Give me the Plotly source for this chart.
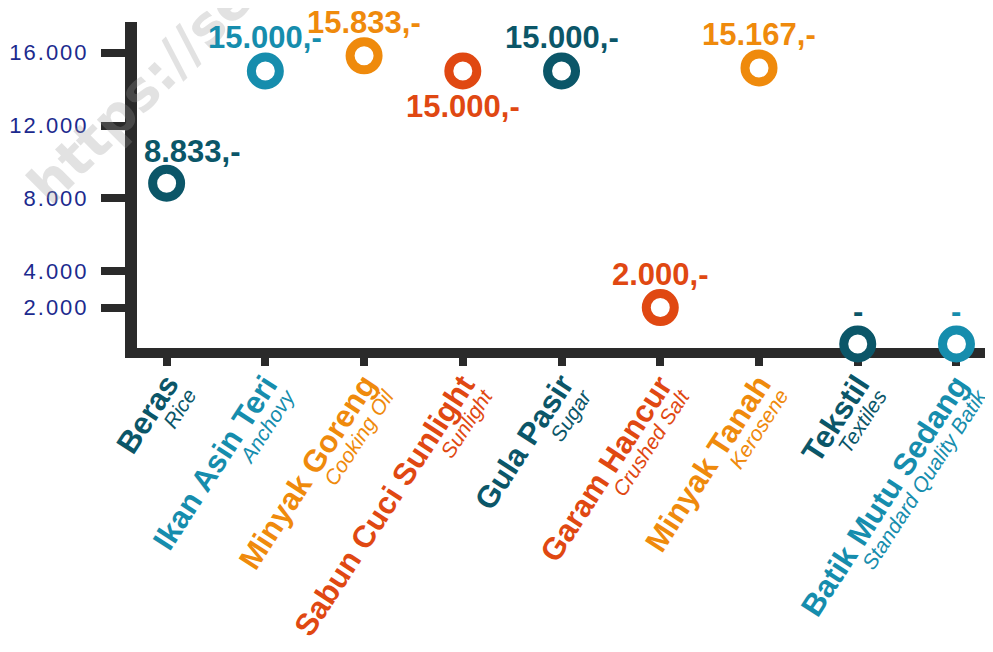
import math
import plotly.graph_objects as go

# ---- data ----
names = ["Beras", "Ikan Asin Teri", "Minyak Goreng", "Sabun Cuci Sunlight",
         "Gula Pasir", "Garam Hancur", "Minyak Tanah", "Tekstil", "Batik Mutu Sedang"]
english = ["Rice", "Anchovy", "Cooking Oil", "Sunlight", "Sugar",
           "Crushed Salt", "Kerosene", "Textiles", "Standard Quality Batik"]
prices = [8833, 15000, 15833, 15000, 15000, 2000, 15167, 0, 0]
y_ticks = [2000, 4000, 8000, 12000, 16000]
y_tick_text = ["2.000", "4.000", "8.000", "12.000", "16.000"]

# ---- styles ----
DARK = "#0b5668"
LIGHT = "#168dad"
ORANGE = "#ef8a0c"
RED = "#e04812"
colors = [DARK, LIGHT, ORANGE, RED, DARK, RED, ORANGE, DARK, LIGHT]
placement = ["above-right", "above", "above", "below", "above", "above", "above", "above", "above"]
shifts = {"above": (0, 33), "below": (0, -36), "above-right": (26, 32)}
AXIS = "#2a2a2a"
FONT = "Liberation Sans, Arial, sans-serif"
NAME_SIZE = 31
SUB_SIZE = 21
ANGLE = 57


def fmt(v):
    return "-" if v == 0 else f"{v:,}".replace(",", ".") + ",-"


# rotated category labels: place the text baseline end, convert to the
# top-right corner of the rotated annotation box
S, C = math.sin(math.radians(ANGLE)), math.cos(math.radians(ANGLE))


def corner(bx, by, size):
    a, e = 0.905 * size + 1, 0.212 * size + 1
    return bx + e * S + C, by - a * C - S


NAME_END = (15, 35)                       # px right of tick, px below plot bottom
GAP = 20                                  # baseline distance between the two lines
SUB_END = (NAME_END[0] + GAP * S, NAME_END[1] + GAP * C)
name_corner = corner(*NAME_END, NAME_SIZE)
sub_corner = corner(*SUB_END, SUB_SIZE)

fig = go.Figure()
fig.add_trace(go.Scatter(
    x=names, y=prices, mode="markers", cliponaxis=False,
    marker=dict(symbol="circle", size=28, color="white",
                line=dict(color=colors, width=9)),
    hoverinfo="skip", showlegend=False,
))

annotations = []
# faint watermark
annotations.append(dict(
    x=0.004, y=0.787, xref="paper", yref="paper", text="https://se",
    showarrow=False, textangle=-45, xanchor="center", yanchor="middle",
    font=dict(family="DejaVu Sans", size=54, color="rgba(150,150,150,0.28)", weight="bold"),
))

for n, e, v, c, p in zip(names, english, prices, colors, placement):
    dx, dy = shifts[p]
    annotations.append(dict(
        x=n, y=v, xref="x", yref="y", text=fmt(v), showarrow=False,
        xshift=dx, yshift=dy,
        font=dict(family=FONT, size=31, color=c, weight="bold"),
    ))
    annotations.append(dict(
        x=n, y=0, xref="x", yref="paper", text=n, showarrow=False,
        textangle=-ANGLE, xanchor="right", yanchor="top",
        xshift=name_corner[0], yshift=-name_corner[1],
        font=dict(family=FONT, size=NAME_SIZE, color=c, weight="bold"),
    ))
    annotations.append(dict(
        x=n, y=0, xref="x", yref="paper", text=e, showarrow=False,
        textangle=-ANGLE, xanchor="right", yanchor="top",
        xshift=sub_corner[0], yshift=-sub_corner[1],
        font=dict(family=FONT, size=SUB_SIZE, color=c, style="italic"),
    ))

fig.update_layout(
    width=993, height=652,
    margin=dict(l=129, r=8, t=14, b=312, autoexpand=False),
    plot_bgcolor="white", paper_bgcolor="white",
    annotations=annotations,
    xaxis=dict(
        range=[-0.30, 8.37], tickmode="array", tickvals=names, showticklabels=False,
        showline=True, linecolor=AXIS, linewidth=10,
        ticks="outside", ticklen=8, tickwidth=8, tickcolor=AXIS,
        showgrid=False, zeroline=False, layer="below traces", automargin=False,
    ),
    yaxis=dict(
        range=[-220, 17690], tickmode="array", tickvals=y_ticks,
        ticktext=[f"<span style='letter-spacing:2px'>{t}</span>" for t in y_tick_text],
        showline=True, linecolor=AXIS, linewidth=12,
        ticks="outside", ticklen=24, tickwidth=8, tickcolor=AXIS,
        showgrid=False, zeroline=False, layer="below traces", automargin=False,
        tickfont=dict(family=FONT, size=22, color="#1c2a8e"),
        ticklabelstandoff=8,
    ),
)

fig.write_html("out.html")
